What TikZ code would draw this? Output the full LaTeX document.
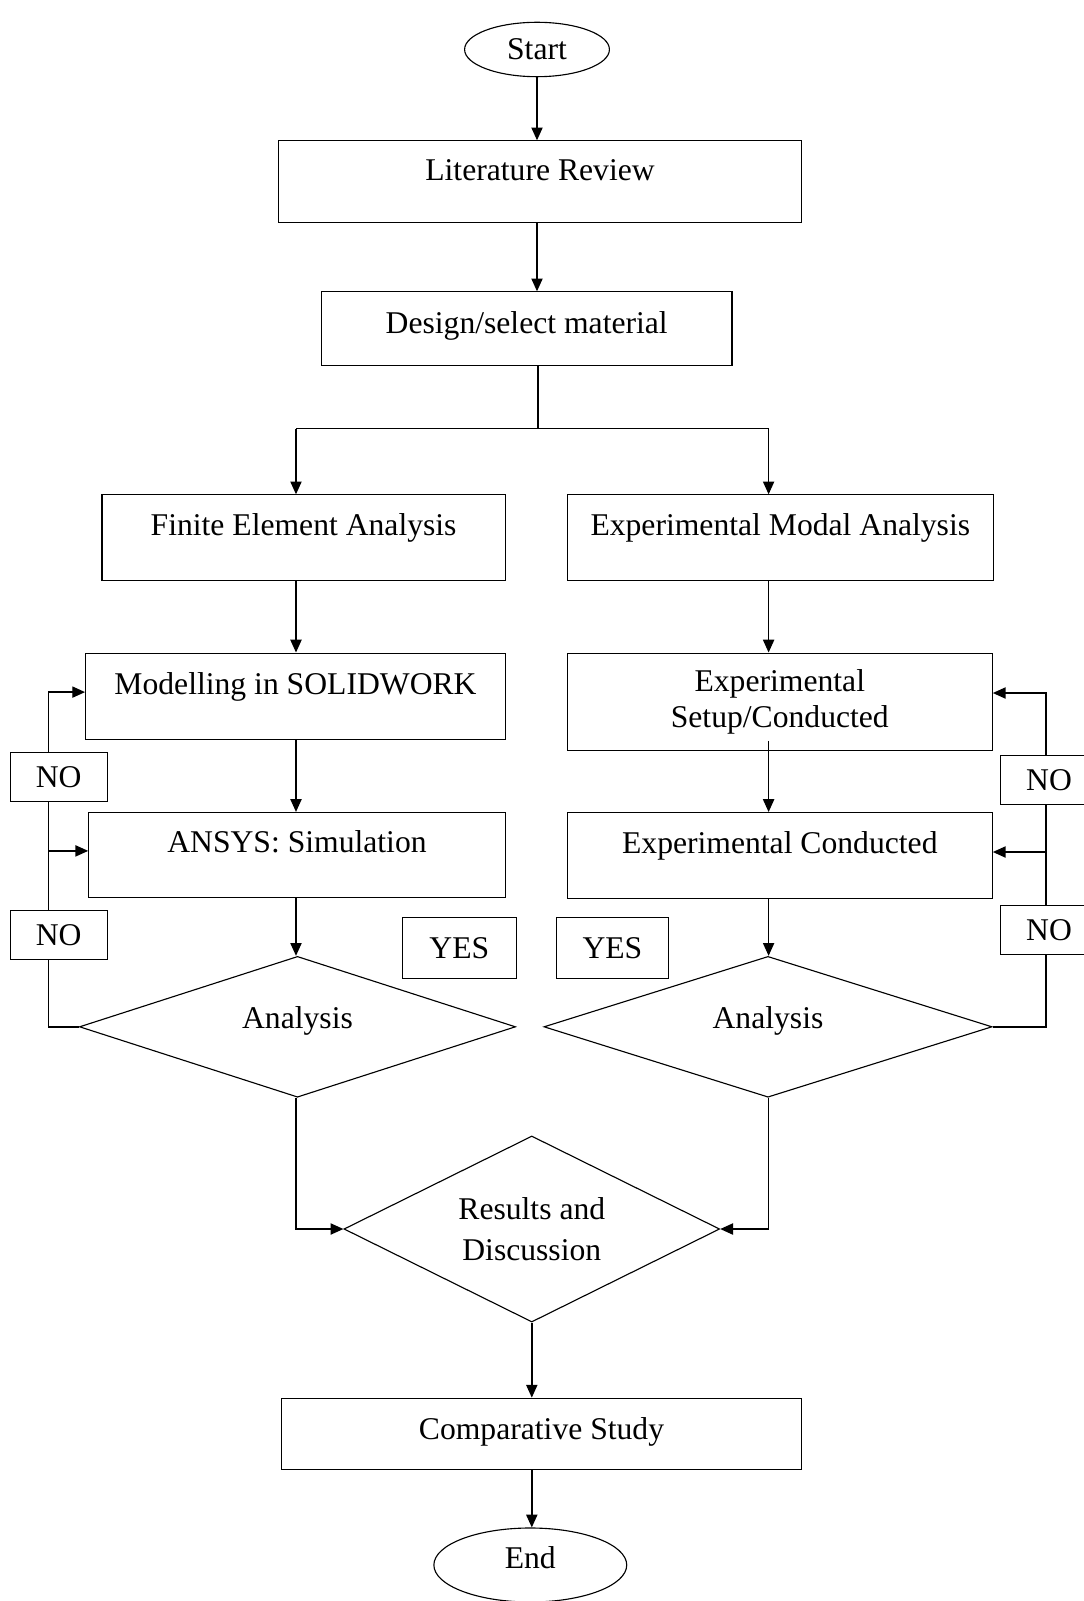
\documentclass[tikz,border=0pt]{standalone}
\usepackage{fontspec}
\setmainfont{Liberation Serif}
\usetikzlibrary{arrows.meta,calc,shapes.geometric}

\begin{document}
\begin{tikzpicture}[
  x=0.025cm, y=-0.025cm,
  font=\fontsize{22.5}{26}\selectfont,
  box/.style={draw=black, line width=0.8pt, fill=white, inner sep=0pt, align=center},
  lift/.style={text height=0.55cm, text depth=#1},
  dia/.style={diamond, draw=black, line width=0.8pt, inner sep=0pt, align=center},
  term/.style={ellipse, draw=black, line width=0.8pt, inner sep=0pt},
  tag/.style={draw=black, line width=0.8pt, fill=white, inner sep=0pt,
              minimum width=2.43cm, minimum height=1.23cm},
  arr/.style={-{Triangle[length=0.32cm,width=0.28cm]}, line width=1pt},
  ln/.style={line width=1pt},
]
\useasboundingbox (0,0) rectangle (1083,1601);

% ---- start / end ----
\node[term, minimum width=3.62cm, minimum height=1.36cm] (st) at (537,49.5) {Start};
\node[term, minimum width=4.82cm, minimum height=1.85cm, lift=0.4cm] (end) at (530.3,1565) {End};

% ---- process boxes ----
\node[box, lift=0.6cm,  minimum width=13.06cm, minimum height=2.04cm] (lit)  at (540,181.7)   {Literature Review};
\node[box, lift=0.33cm, minimum width=10.26cm, minimum height=1.84cm] (des)  at (526.7,328.7) {Design/select material};
\node[box, lift=0.65cm, minimum width=10.08cm, minimum height=2.15cm] (fea)  at (303.6,537.9) {Finite Element Analysis};
\node[box, lift=0.65cm, minimum width=10.64cm, minimum height=2.15cm] (ema)  at (780.3,537.9) {Experimental Modal Analysis};
\node[box, lift=0.65cm, minimum width=10.49cm, minimum height=2.15cm] (mod)  at (295.5,696.1) {Modelling in SOLIDWORK};
\node[box,              minimum width=10.62cm, minimum height=2.43cm] (set)  at (779.8,701.7) {Experimental\\Setup/Conducted};
\node[box, lift=0.65cm, minimum width=10.41cm, minimum height=2.12cm] (ans)  at (297,854.9)   {ANSYS: Simulation};
\node[box, lift=0.65cm, minimum width=10.62cm, minimum height=2.14cm] (cond) at (779.8,855.4) {Experimental Conducted};
\node[box, lift=0.3cm,  minimum width=12.99cm, minimum height=1.79cm] (cmp)  at (541.5,1434)  {Comparative Study};

% ---- decisions ----
\node[dia, shape aspect=3, lift=0.45cm, minimum width=10.9cm, minimum height=3.52cm] (anL) at (297.5,1026.8) {Analysis};
\node[dia, shape aspect=3, lift=0.45cm, minimum width=11.2cm, minimum height=3.52cm] (anR) at (768,1026.8)   {Analysis};
\node[dia, shape aspect=2, minimum width=9.39cm, minimum height=4.65cm] (res) at (531.8,1229) {Results and\\[3pt]Discussion};

% ---- junctions ----
\coordinate (jn)  at (538,428.7);
\coordinate (jL)  at (296,428.7);
\coordinate (jR)  at (768.6,428.7);
\coordinate (fbL) at (48.5,1026.8);
\coordinate (fbR) at (1046,1026.8);
\coordinate (modIn)  at ($(mod.west)+(0,-4)$);
\coordinate (ansIn)  at ($(ans.west)+(0,-4)$);
\coordinate (setIn)  at ($(set.east)+(0,-8.7)$);
\coordinate (condIn) at ($(cond.east)+(0,-3.4)$);

% ---- main flow ----
\draw[arr] (st.south) -- (st.south |- lit.north);
\draw[arr] (st.south |- lit.south) -- (st.south |- des.north);
\draw[ln] (jn |- des.south) -- (jn);
\draw[ln] (jL) -- (jR);
\draw[arr] (jL) -- (jL |- fea.north);
\draw[arr] (jR) -- (jR |- ema.north);
% left branch
\draw[arr] (jL |- fea.south) -- (jL |- mod.north);
\draw[arr] (jL |- mod.south) -- (jL |- ans.north);
\draw[arr] (jL |- ans.south) -- (jL |- anL.north);
% right branch
\draw[arr] (jR |- ema.south) -- (jR |- set.north);
\draw[arr] ($(jR |- set.south)+(0,-10)$) -- (jR |- cond.north);
\draw[arr] (jR |- cond.south) -- (jR |- anR.north);
% feedback loops
\draw[arr] (anL.west) -- (fbL) |- (modIn);
\draw[arr] (fbL |- ansIn) -- (ansIn);
\draw[arr] (anR.east) -- (fbR) |- (setIn);
\draw[arr] (fbR |- condIn) -- (condIn);
% merge
\draw[arr] (jL |- anL.south) |- (res.west);
\draw[arr] (jR |- anR.south) |- (res.east);
\draw[arr] (res.south) -- (res.south |- cmp.north);
\draw[arr] (res.south |- cmp.south) -- (res.south |- end.north);

% ---- yes / no labels ----
\node[tag, minimum width=2.86cm, minimum height=1.53cm] (yesL) at (459.3,948.2) {YES};
\node[tag, minimum width=2.81cm, minimum height=1.53cm] (yesR) at (612.4,948.2) {YES};
\node[tag] (noL1) at (58.7,776.7) {NO};
\node[tag] (noL2) at (58.7,935)   {NO};
\node[tag] (noR1) at (1049,779.8) {NO};
\node[tag] (noR2) at (1049,930)   {NO};

\end{tikzpicture}
\end{document}
